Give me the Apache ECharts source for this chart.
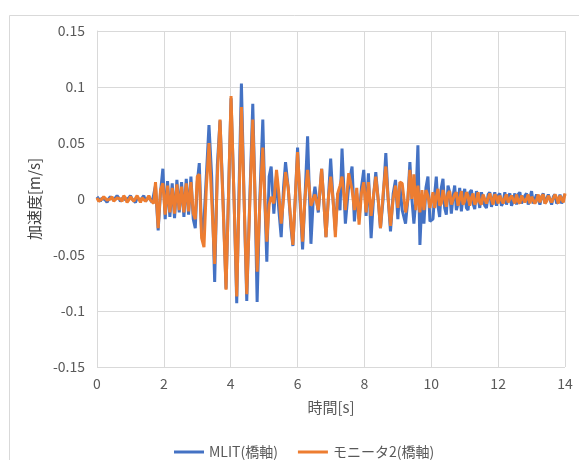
<!DOCTYPE html>
<html>
<head>
<meta charset="utf-8">
<script src="https://cdn.jsdelivr.net/npm/echarts@6/dist/echarts.min.js"></script>
<style>
html,body{margin:0;padding:0;background:#fff;}
#chart{width:579px;height:460px;}
</style>
</head>
<body>
<div id="chart"></div>
<script>
// Time of each sample [s]
const times = [
  0.00,0.05,0.10,0.15,0.20,0.25,0.30,0.35,0.40,0.45,0.50,0.55,0.60,0.65,0.70,0.75,0.80,0.85,0.90,0.95,
  1.00,1.05,1.10,1.15,1.20,1.25,1.30,1.35,1.40,1.45,1.50,1.55,1.60,1.65,1.70,
  1.75,1.83,1.9,1.97,2.04,2.11,2.18,2.25,2.32,2.39,2.46,2.53,2.6,2.67,2.74,2.81,2.88,2.94,3.0,3.06,3.13,3.2,3.27,
  3.35,3.43,3.52,3.60,3.68,3.77,3.86,3.94,4.01,4.10,4.18,4.25,4.32,4.40,4.48,4.57,4.66,4.73,4.79,4.87,4.96,5.02,5.08,
  5.15,5.21,5.29,5.37,5.44,5.51,5.58,5.64,5.72,5.80,5.86,5.93,6.00,6.07,6.15,6.22,6.30,6.40,6.47,6.52,6.62,6.72,6.78,6.85,6.92,6.99,
  7.06,7.13,7.20,7.27,7.33,7.43,7.53,7.63,7.70,7.77,7.84,7.91,7.98,8.05,8.12,8.20,8.28,8.34,8.41,8.48,8.56,8.64,8.71,8.78,8.86,8.93,
  9.00,9.06,9.13,9.23,9.30,9.36,9.42,9.48,9.54,9.60,9.66,9.72,9.78,9.84,9.90,9.96,
  10.05,10.10,10.15,10.20,10.25,10.30,10.35,10.40,10.45,10.50,10.55,10.60,10.65,10.70,10.75,10.80,10.85,10.90,10.95,11.00,
  11.05,11.10,11.15,11.20,11.25,11.30,11.35,11.40,11.45,11.50,11.55,11.60,11.65,11.70,11.75,11.80,11.85,11.90,11.95,12.00,
  12.05,12.10,12.15,12.20,12.25,12.30,12.35,12.40,12.45,12.50,12.55,12.60,12.65,12.70,12.75,12.80,12.85,12.90,12.95,13.00,
  13.05,13.10,13.15,13.20,13.25,13.30,13.35,13.40,13.45,13.50,13.55,13.60,13.65,13.70,13.75,13.80,13.85,13.90,13.95,14.00
];
// MLIT (橋軸) acceleration [m/s]
const mlit = [
  0.002,0.000,-0.002,0.001,0.002,-0.001,-0.003,0.000,0.002,0.001,-0.001,-0.002,0.003,0.001,-0.002,0.000,0.002,-0.001,-0.002,0.001,
  0.003,0.000,-0.001,-0.003,0.001,0.002,-0.001,0.000,0.003,-0.002,-0.001,0.002,0.001,-0.003,-0.002,
  0.012,-0.028,0.006,0.027,-0.018,0.016,-0.016,0.014,-0.017,0.017,-0.012,0.015,-0.016,0.018,-0.014,0.020,-0.018,-0.026,0.015,0.032,-0.031,-0.020,0.020,
  0.066,0.020,-0.074,0.030,0.070,0.000,-0.080,0.010,0.090,0.000,-0.093,0.010,0.103,0.000,-0.091,0.000,0.085,0.000,-0.092,0.000,0.071,0.000,-0.056,
  0.020,0.029,-0.013,0.021,-0.010,-0.034,0.010,0.033,0.010,-0.025,-0.042,0.000,0.046,0.000,-0.045,0.000,0.056,-0.040,0.000,0.011,-0.012,0.027,0.000,-0.034,0.000,0.036,
  0.000,-0.028,0.005,-0.010,0.045,-0.022,0.012,0.029,-0.020,0.005,-0.018,0.010,0.026,-0.015,0.023,-0.035,0.005,0.024,0.000,-0.026,0.000,0.041,0.000,-0.029,0.005,0.017,
  -0.018,0.012,-0.010,-0.022,0.000,0.033,0.000,-0.022,0.000,0.048,-0.041,0.000,-0.022,0.010,0.020,-0.020,
  -0.018,0.004,0.020,-0.006,-0.016,0.010,0.018,-0.008,-0.014,0.012,0.006,-0.013,0.002,0.012,-0.010,-0.004,0.010,-0.011,0.003,0.009,
  -0.008,-0.010,0.006,0.008,-0.004,-0.009,0.007,0.002,-0.008,0.006,0.007,-0.006,-0.008,0.004,0.006,-0.007,0.000,0.006,-0.006,0.003,
  0.005,-0.006,-0.003,0.006,-0.005,0.002,0.005,-0.006,-0.002,0.005,-0.005,0.004,0.006,-0.004,-0.005,0.003,0.005,-0.005,0.001,0.007,
  -0.004,-0.005,0.004,0.003,-0.005,0.002,0.005,-0.004,-0.003,0.004,0.003,-0.005,0.002,0.004,-0.004,-0.002,0.004,-0.004,0.001,0.004
];
// モニータ2 (橋軸) acceleration [m/s]
const monitor = [
  0.001,-0.002,-0.003,0.000,0.002,0.003,-0.001,-0.002,0.000,0.002,-0.002,-0.003,0.001,0.002,0.000,-0.002,0.003,0.001,-0.003,-0.001,
  0.002,0.001,-0.002,-0.001,0.003,0.000,-0.003,0.001,0.002,-0.002,0.000,0.003,-0.001,-0.002,-0.004,
  0.015,-0.026,0.008,0.014,-0.014,0.012,-0.012,0.010,-0.013,0.013,-0.010,0.011,-0.012,0.014,-0.011,0.015,-0.013,-0.018,0.020,0.022,-0.035,-0.043,0.010,
  0.050,0.000,-0.058,0.020,0.071,-0.005,-0.081,0.010,0.092,0.000,-0.087,0.000,0.082,0.000,-0.085,-0.005,0.071,0.000,-0.065,-0.005,0.046,0.000,-0.038,
  -0.005,0.002,-0.004,0.026,0.005,-0.022,0.000,0.024,0.010,-0.020,-0.041,0.000,0.042,0.005,-0.038,0.000,0.026,-0.006,0.000,0.004,-0.010,0.027,0.000,-0.034,0.000,0.020,
  0.000,-0.034,0.005,0.012,0.020,-0.010,0.023,0.008,-0.010,0.010,-0.023,0.005,0.015,-0.012,0.015,-0.015,0.005,0.020,0.000,-0.026,0.005,0.029,0.000,-0.024,0.000,0.012,
  -0.008,0.015,0.014,-0.012,0.000,0.026,0.000,0.022,-0.010,0.012,-0.012,0.008,-0.010,0.008,0.003,-0.008,
  0.006,-0.008,0.002,0.009,-0.006,-0.004,0.008,0.001,-0.007,0.005,0.007,-0.005,-0.006,0.004,0.006,-0.006,0.000,0.007,-0.005,-0.002,
  0.006,0.003,-0.006,0.001,0.005,-0.005,-0.002,0.006,-0.003,-0.005,0.004,0.005,-0.004,-0.003,0.005,0.000,-0.005,0.004,0.002,-0.004,
  0.003,0.004,-0.004,0.001,0.004,-0.003,-0.004,0.003,0.002,-0.004,0.004,-0.002,-0.004,0.003,0.004,-0.003,0.000,0.004,-0.004,0.002,
  0.003,-0.004,-0.001,0.004,-0.003,0.002,0.004,-0.004,-0.002,0.003,0.004,-0.003,-0.002,0.004,0.001,-0.004,0.003,0.002,-0.003,0.005
];
const seriesNames = ['MLIT(橋軸)', 'モニータ2(橋軸)'];

const font = '"Noto Sans CJK JP", "Noto Sans", sans-serif';
const chart = echarts.init(document.getElementById('chart'), null, {renderer: 'canvas'});
chart.setOption({
  animation: false,
  backgroundColor: '#ffffff',
  graphic: [{
    type: 'rect', left: 7, top: 13,
    shape: {x: 0, y: 0, width: 620, height: 500},
    style: {fill: 'none', stroke: '#d9d9d9', lineWidth: 1}
  }],
  grid: {left: 97, right: 14, top: 31, bottom: 93},
  legend: {
    left: 169, top: 440,
    icon: 'rect', itemWidth: 30, itemHeight: 3, itemGap: 20,
    textStyle: {color: '#595959', fontSize: 14, fontFamily: font},
    data: seriesNames
  },
  xAxis: {
    type: 'value', min: 0, max: 14, interval: 2,
    name: '時間[s]', nameLocation: 'middle', nameGap: 33,
    nameTextStyle: {color: '#595959', fontSize: 15, fontFamily: font},
    axisLine: {show: true, lineStyle: {color: '#d9d9d9'}},
    axisTick: {show: false},
    axisLabel: {color: '#595959', fontSize: 14, fontFamily: font, margin: 10},
    splitLine: {show: true, lineStyle: {color: '#d9d9d9'}}
  },
  yAxis: {
    type: 'value', min: -0.15, max: 0.15, interval: 0.05,
    name: '加速度[m/s]', nameLocation: 'middle', nameGap: 54,
    nameTextStyle: {color: '#404040', fontSize: 15, fontFamily: font},
    axisLine: {show: true, lineStyle: {color: '#d9d9d9'}},
    axisTick: {show: false},
    axisLabel: {color: '#595959', fontSize: 14, fontFamily: font, margin: 12,
      formatter: v => String(Math.round(v * 100) / 100)},
    splitLine: {show: true, lineStyle: {color: '#d9d9d9'}}
  },
  series: [
    {
      name: seriesNames[0], type: 'line', showSymbol: false, symbol: 'none',
      data: times.map((t, i) => [t, mlit[i]]),
      lineStyle: {color: '#4472C4', width: 3}, itemStyle: {color: '#4472C4'}
    },
    {
      name: seriesNames[1], type: 'line', showSymbol: false, symbol: 'none',
      data: times.map((t, i) => [t, monitor[i]]),
      lineStyle: {color: '#ED7D31', width: 3}, itemStyle: {color: '#ED7D31'}
    }
  ]
});
</script>
</body>
</html>
